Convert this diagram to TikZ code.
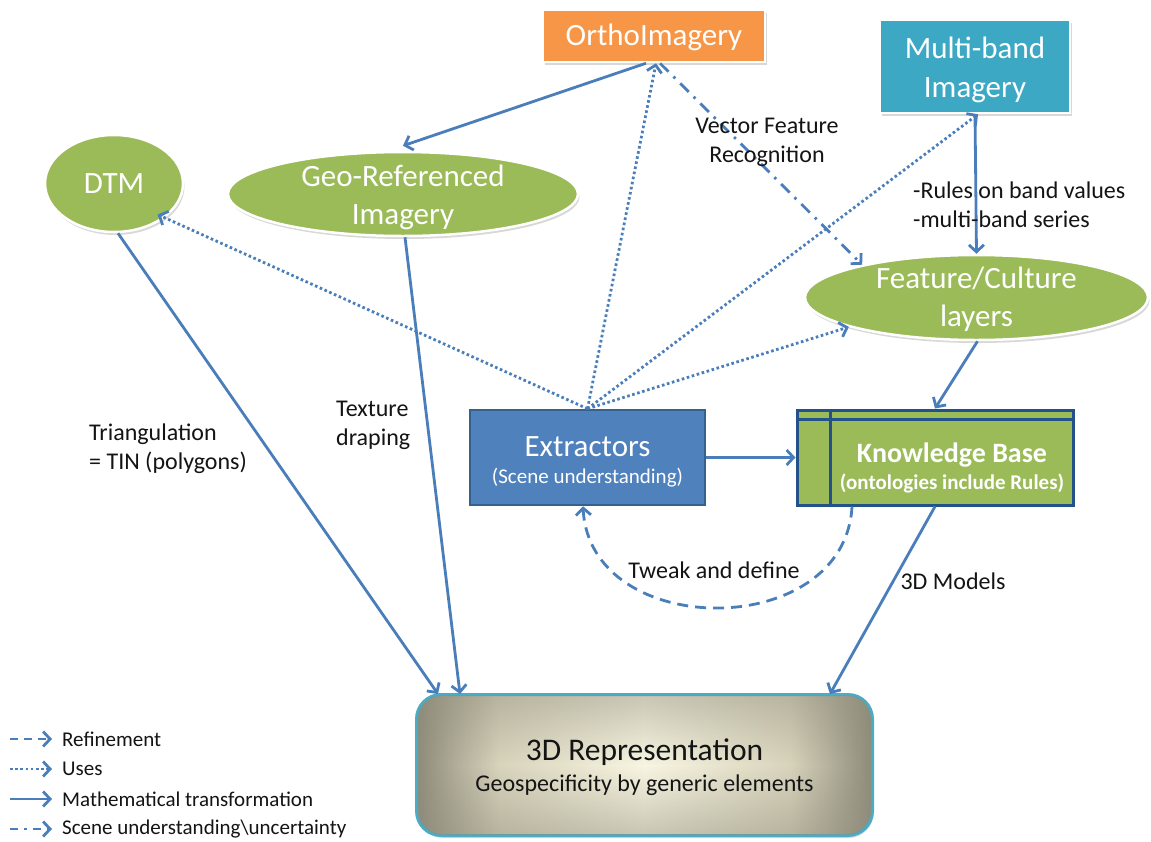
\documentclass[tikz,border=0pt]{standalone}
\usepackage{fontspec}
\setmainfont{Carlito}
\usetikzlibrary{arrows.meta,shapes.geometric,shadows,fadings}

\definecolor{link}{HTML}{4A7EBB}
\definecolor{leaf}{HTML}{9BBB59}
\definecolor{orthofill}{HTML}{F79646}
\definecolor{aqua}{HTML}{3CA8C4}
\definecolor{extr}{HTML}{4F81BD}
\definecolor{extrline}{HTML}{35618F}
\definecolor{kbline}{HTML}{23528A}
\definecolor{repline}{HTML}{4BACC6}
\definecolor{repin}{HTML}{F8F5E2}
\definecolor{repmid}{HTML}{D8D4BC}
\definecolor{repout}{HTML}{8E8B7A}
% light centre, grey sides
\pgfdeclarehorizontalshading{repshade}{100bp}{color(0bp)=(repout); color(25bp)=(repout); color(34bp)=(repmid); color(50bp)=(repin); color(66bp)=(repmid); color(75bp)=(repout); color(100bp)=(repout)}
% darkening towards the top and bottom edges
\tikzfading[name=vband, top color=transparent!55, bottom color=transparent!55, middle color=transparent!100]

\newcommand\fsz[2]{\fontsize{#1}{#2}\selectfont}

\tikzset{
  shadowed/.style={drop shadow={shadow xshift=1.5pt, shadow yshift=-3pt, opacity=0.3}},
  conn/.style={draw=link, line width=2.8pt, -{Straight Barb[length=7pt,width=15pt]}},
  maths/.style={conn},
  uses/.style={conn, dash pattern=on 2.6pt off 2.6pt},
  refine/.style={conn, dash pattern=on 11pt off 7pt},
  scene/.style={conn, dash pattern=on 12pt off 7pt on 2.5pt off 7pt},
  plate/.style={rectangle, draw=white, line width=2.5pt, shadowed, inner sep=0pt},
  platetext/.style={text=white, align=center, font=\fsz{31}{39}},
  blob/.style={ellipse, fill=leaf, draw=white, line width=2.5pt, shadowed, inner sep=0pt},
  blobtext/.style={text=white, align=center, font=\fsz{31}{38}},
  note/.style={align=left, inner sep=0pt, font=\fsz{24}{29}, text=black!92},
  legendtext/.style={anchor=west, inner sep=0pt, font=\fsz{21}{24}, text=black!92}
}

\begin{document}
\begin{tikzpicture}[x=1pt, y=-1pt]
\useasboundingbox[fill=white] (0,0) rectangle (1151,841);

% source imagery
\node[plate, fill=orthofill, minimum width=222pt, minimum height=52pt,
      label={[platetext, yshift=-1pt]center:OrthoImagery}] (ortho) at (654,36) {};
\node[plate, fill=aqua, minimum width=190pt, minimum height=93pt,
      label={[platetext, yshift=-3pt]center:{Multi-band\\Imagery}}] (mb) at (975,66.5) {};

% derived layers
\node[blob, minimum width=138pt, minimum height=97pt, label={[blobtext]center:DTM}] (dtm) at (114,183.5) {};
\node[blob, minimum width=350pt, minimum height=84pt, label={[blobtext, yshift=-3pt]center:{Geo-Referenced\\Imagery}}] (geo) at (403,194) {};
\node[blob, minimum width=343pt, minimum height=85pt, label={[blobtext, yshift=-1.5pt]center:{Feature/Culture\\layers}}] (feat) at (976.5,297.5) {};

% processing
\node[rectangle, fill=extr, draw=extrline, line width=2.5pt, minimum width=235pt, minimum height=95pt] (ext) at (587.5,457.5) {};
\node[text=white, font=\fsz{31}{34}] (extname) at (587.5,447) {Extractors};
\node[text=white, font=\fsz{21}{26}] (extsub) at (587.5,478) {(Scene understanding)};

\node[rectangle, fill=leaf, draw=kbline, line width=3pt, minimum width=276pt, minimum height=95pt] (kb) at (935,457.5) {};
\draw[kbline, line width=3pt] ([yshift=-11pt]kb.north west) -- ([yshift=-11pt]kb.north east);
\draw[kbline, line width=3pt] ([xshift=35pt]kb.north west) -- ([xshift=35pt]kb.south west);
\node[text=white, font=\bfseries\fsz{28}{30}] (kbname) at (952,455) {Knowledge Base};
\node[text=white, font=\bfseries\fsz{21}{24}] (kbsub) at (952,483) {(ontologies include Rules)};

% result
\node[rounded corners=25pt, draw=repline, line width=2pt, shading=repshade, minimum width=455pt, minimum height=140pt, shadowed] (rep) at (644.5,765) {};
\fill[repout, path fading=vband, rounded corners=24pt] (rep.north west) rectangle (rep.south east);
\draw[repline, line width=2pt, rounded corners=25pt] (rep.north west) rectangle (rep.south east);
\node[text=black!92, font=\fsz{31.5}{34}] (repname) at (644.5,752) {3D Representation};
\node[text=black!92, font=\fsz{24}{26}] (repsub) at (644.5,785) {Geospecificity by generic elements};

% connectors
\draw[maths] ([xshift=-8pt]ortho.south) -- ([yshift=5pt]geo.north);
\draw[uses] (ext.north) -- ([xshift=2pt]ortho.south);
\draw[uses, shorten >=-8pt] (ext.north) -- (dtm.-34);
\draw[uses] (ext.north) -- ([xshift=3pt]mb.south);
\draw[uses] (ext.north) -- (feat.193);
\draw[scene] ([xshift=6pt]ortho.south) -- (feat.164);
\draw[maths] (mb.south) -- (feat.north);
\draw[maths] ([xshift=1pt]feat.south) -- (kb.north);
\draw[maths] (ext.east) -- (kb.west);
\draw[refine] ([xshift=-83pt]kb.south) .. controls +(-7,135) and +(7,135) .. ([xshift=-4.5pt]ext.south);
\draw[maths] (kb.south) -- ([xshift=185.5pt]rep.north);
\draw[maths] ([xshift=4pt]dtm.south) -- ([xshift=-206.5pt]rep.north);
\draw[maths] ([xshift=2pt]geo.south) -- ([xshift=-184.5pt]rep.north);

% connector labels
\node[note, align=center] (vfr) at (767,142) {Vector Feature\\Recognition};
\node[note, anchor=west] (rules) at (913,205) {-Rules on band values\\-multi-band series};
\node[note, anchor=west] (tex) at (336,425) {Texture\\draping};
\node[note, anchor=west] (tri) at (89,449) {Triangulation\\= TIN (polygons)};
\node[note] (tweak) at (714,570) {Tweak and define};
\node[note] (models) at (953,581) {3D Models};

% legend
\node[legendtext] (lg1) at (62,739) {Refinement};
\node[legendtext] (lg2) at (62,769) {Uses};
\node[legendtext] (lg3) at (62,799) {Mathematical transformation};
\node[legendtext] (lg4) at (62,829) {Scene understanding\textbackslash uncertainty};
\draw[refine, dash pattern=on 8pt off 6pt] ([xshift=-52pt]lg1.west) -- ([xshift=-10pt]lg1.west);
\draw[uses] ([xshift=-52pt]lg2.west) -- ([xshift=-10pt]lg2.west);
\draw[maths] ([xshift=-52pt]lg3.west) -- ([xshift=-10pt]lg3.west);
\draw[scene, dash pattern=on 8pt off 6pt on 2.5pt off 6pt] ([xshift=-52pt]lg4.west) -- ([xshift=-10pt]lg4.west);
\end{tikzpicture}
\end{document}
